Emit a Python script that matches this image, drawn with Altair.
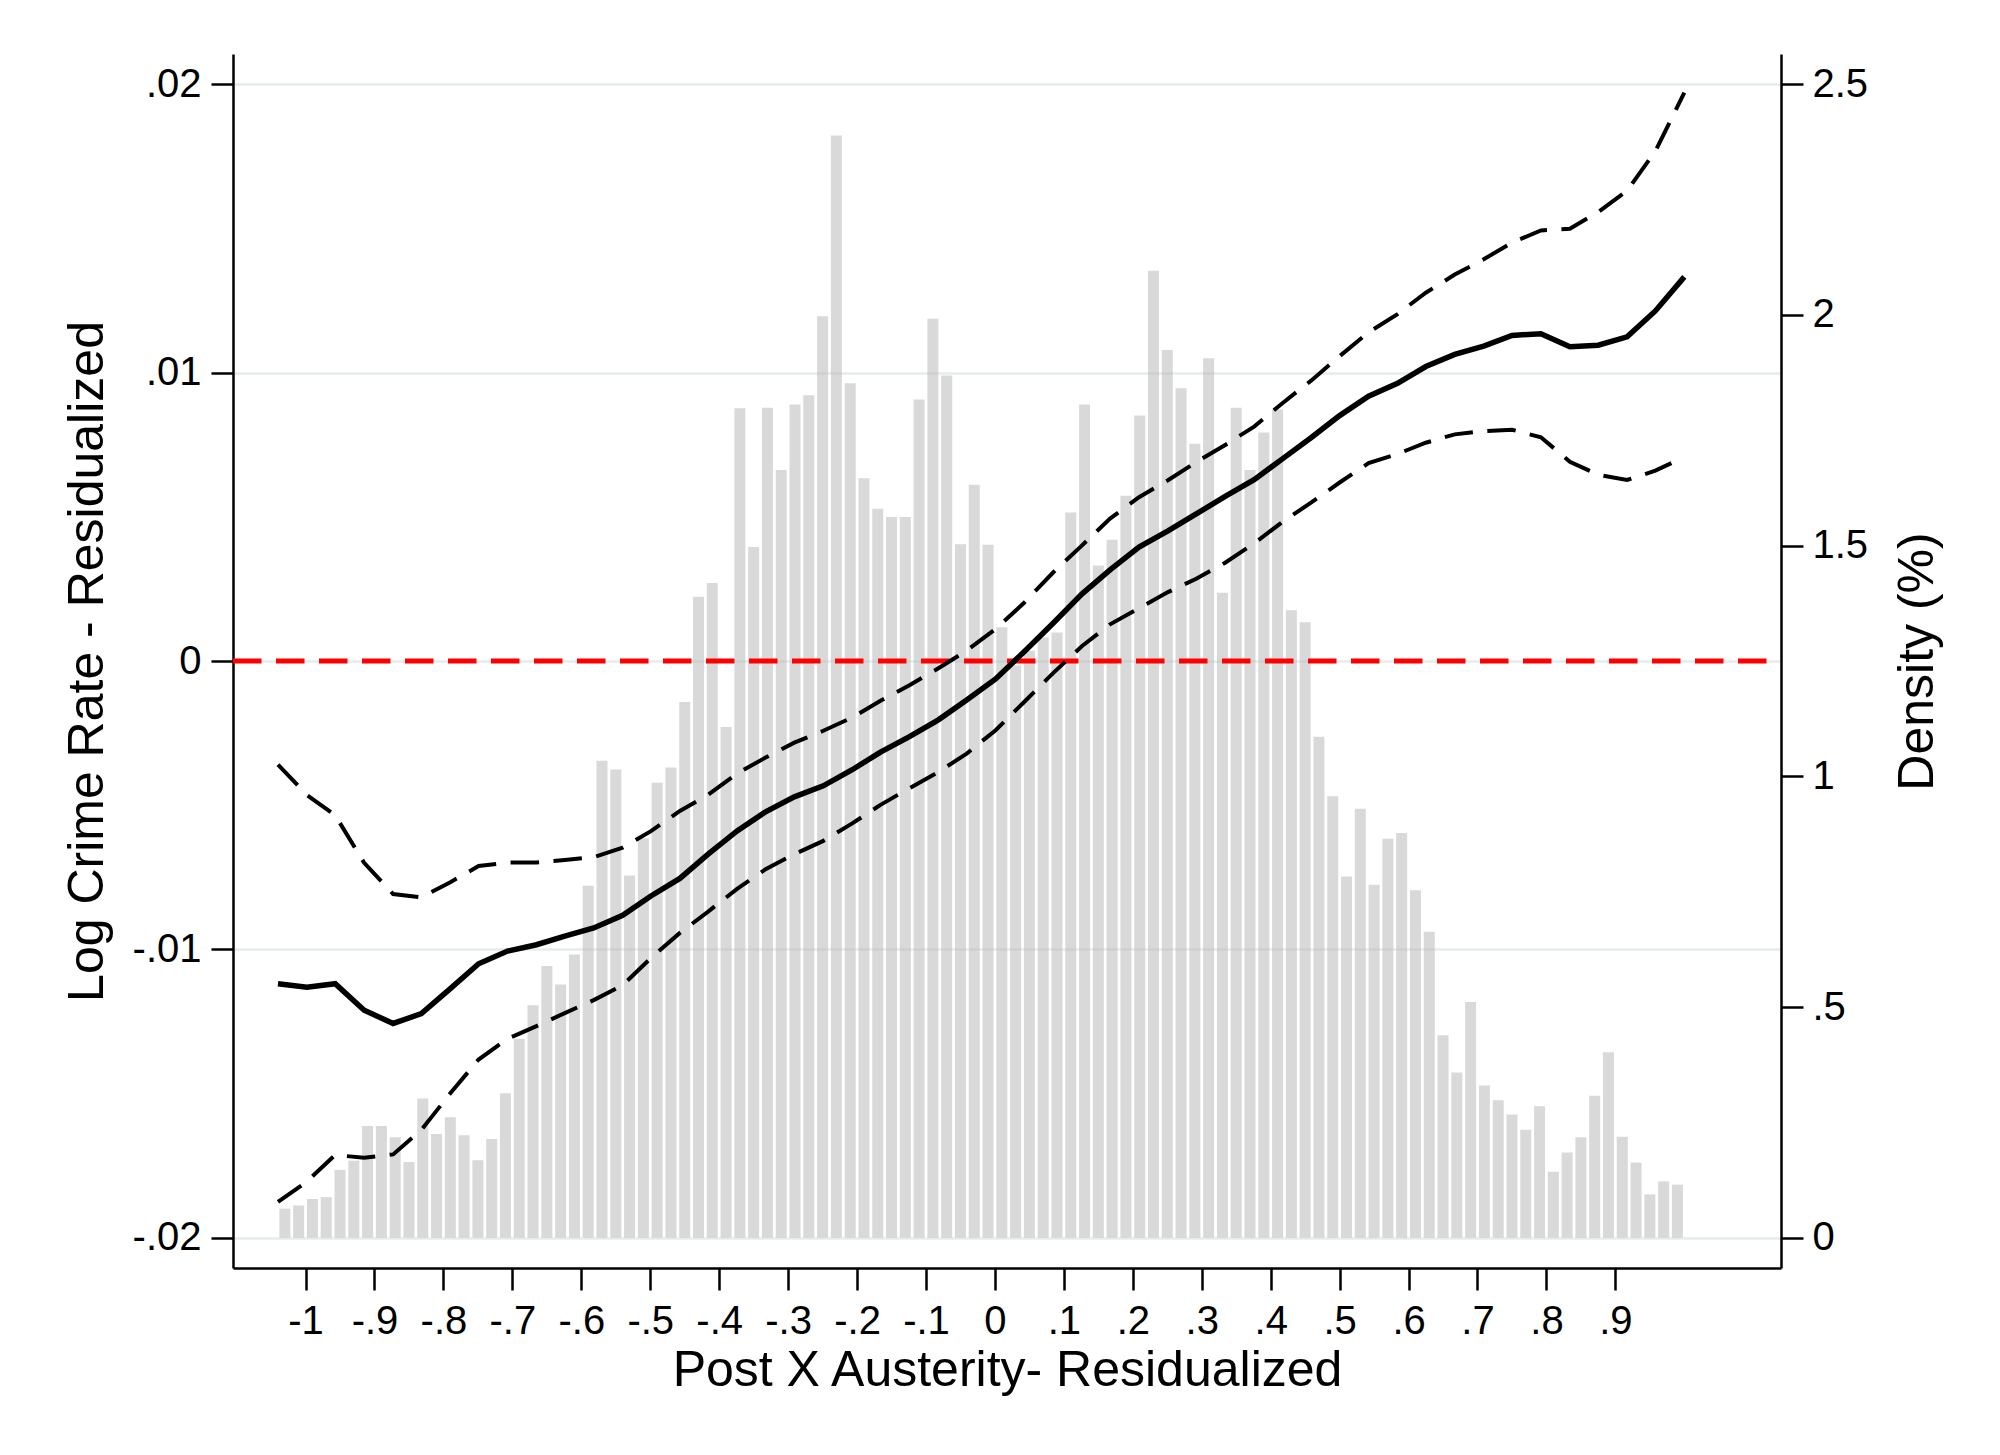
import altair as alt
import pandas as pd

# ---------------- data ----------------
bin_center = [
    -1.03, -1.01, -0.99, -0.97, -0.95, -0.93, -0.91, -0.89, -0.87, -0.85,
    -0.83, -0.81, -0.79, -0.77, -0.75, -0.73, -0.71, -0.69, -0.67, -0.65,
    -0.63, -0.61, -0.59, -0.57, -0.55, -0.53, -0.51, -0.49, -0.47, -0.45,
    -0.43, -0.41, -0.39, -0.37, -0.35, -0.33, -0.31, -0.29, -0.27, -0.25,
    -0.23, -0.21, -0.19, -0.17, -0.15, -0.13, -0.11, -0.09, -0.07, -0.05,
    -0.03, -0.01, 0.01, 0.03, 0.05, 0.07, 0.09, 0.11, 0.13, 0.15,
    0.17, 0.19, 0.21, 0.23, 0.25, 0.27, 0.29, 0.31, 0.33, 0.35,
    0.37, 0.39, 0.41, 0.43, 0.45, 0.47, 0.49, 0.51, 0.53, 0.55,
    0.57, 0.59, 0.61, 0.63, 0.65, 0.67, 0.69, 0.71, 0.73, 0.75,
    0.77, 0.79, 0.81, 0.83, 0.85, 0.87, 0.89, 0.91, 0.93, 0.95,
    0.97, 0.99,
]
density = [
    0.063, 0.070, 0.084, 0.088, 0.147, 0.167, 0.242, 0.242, 0.218, 0.164,
    0.302, 0.225, 0.261, 0.222, 0.168, 0.214, 0.313, 0.431, 0.504, 0.589,
    0.549, 0.614, 0.763, 1.034, 1.015, 0.785, 0.866, 0.986, 1.019, 1.161,
    1.389, 1.419, 1.107, 1.798, 1.497, 1.799, 1.664, 1.806, 1.826, 1.997,
    2.389, 1.852, 1.646, 1.580, 1.562, 1.562, 1.817, 1.992, 1.869, 1.503,
    1.632, 1.502, 1.323, 1.240, 1.272, 1.301, 1.312, 1.572, 1.806, 1.457,
    1.513, 1.608, 1.782, 2.096, 1.924, 1.841, 1.721, 1.906, 1.398, 1.799,
    1.664, 1.745, 1.795, 1.360, 1.334, 1.086, 0.957, 0.783, 0.930, 0.765,
    0.865, 0.877, 0.753, 0.663, 0.439, 0.358, 0.511, 0.330, 0.298, 0.267,
    0.234, 0.285, 0.143, 0.185, 0.218, 0.308, 0.402, 0.219, 0.163, 0.094,
    0.122, 0.115,
]

line_x = [
    -1.040, -0.998, -0.957, -0.915, -0.873, -0.832, -0.790, -0.749, -0.707, -0.665,
    -0.624, -0.582, -0.540, -0.499, -0.457, -0.416, -0.374, -0.332, -0.291, -0.249,
    -0.207, -0.166, -0.124, -0.082, -0.041, 0.001, 0.042, 0.084, 0.126, 0.167,
    0.209, 0.251, 0.292, 0.334, 0.376, 0.417, 0.459, 0.500, 0.542, 0.584,
    0.625, 0.667, 0.709, 0.750, 0.792, 0.834, 0.875, 0.917, 0.958, 1.000,
]
fit = [
    -0.01119, -0.01131, -0.01119, -0.01211, -0.01257, -0.01223, -0.01136, -0.01050, -0.01006, -0.00984,
    -0.00954, -0.00926, -0.00882, -0.00815, -0.00754, -0.00670, -0.00589, -0.00522, -0.00471, -0.00433,
    -0.00377, -0.00316, -0.00262, -0.00204, -0.00135, -0.00062, 0.00031, 0.00130, 0.00232, 0.00316,
    0.00395, 0.00451, 0.00510, 0.00571, 0.00629, 0.00701, 0.00775, 0.00851, 0.00918, 0.00963,
    0.01021, 0.01063, 0.01092, 0.01129, 0.01135, 0.01090, 0.01095, 0.01124, 0.01214, 0.01332,
]
ci_upper = [
    -0.00359, -0.00465, -0.00535, -0.00700, -0.00808, -0.00820, -0.00767, -0.00711, -0.00699, -0.00699,
    -0.00690, -0.00680, -0.00647, -0.00590, -0.00520, -0.00464, -0.00390, -0.00334, -0.00283, -0.00242,
    -0.00196, -0.00138, -0.00084, -0.00025, 0.00036, 0.00111, 0.00201, 0.00306, 0.00400, 0.00494,
    0.00568, 0.00627, 0.00690, 0.00749, 0.00813, 0.00894, 0.00973, 0.01057, 0.01140, 0.01203,
    0.01277, 0.01340, 0.01393, 0.01451, 0.01493, 0.01499, 0.01557, 0.01631, 0.01768, 0.01971,
]
ci_lower = [
    -0.01876, -0.01805, -0.01713, -0.01723, -0.01711, -0.01626, -0.01499, -0.01382, -0.01310, -0.01266,
    -0.01221, -0.01176, -0.01124, -0.01030, -0.00943, -0.00869, -0.00790, -0.00721, -0.00670, -0.00624,
    -0.00563, -0.00499, -0.00441, -0.00385, -0.00321, -0.00240, -0.00143, -0.00043, 0.00051, 0.00127,
    0.00183, 0.00239, 0.00285, 0.00341, 0.00408, 0.00482, 0.00550, 0.00619, 0.00686, 0.00718,
    0.00757, 0.00786, 0.00797, 0.00802, 0.00776, 0.00691, 0.00646, 0.00628, 0.00660, 0.00707,
]
reference_line = [0]

x_tick_values = [-1, -0.9, -0.8, -0.7, -0.6, -0.5, -0.4, -0.3, -0.2, -0.1,
                 0, 0.1, 0.2, 0.3, 0.4, 0.5, 0.6, 0.7, 0.8, 0.9]
y_tick_values = [-0.02, -0.01, 0, 0.01, 0.02]
density_tick_values = [0, 0.5, 1, 1.5, 2, 2.5]

x_title = "Post X Austerity- Residualized"
y_title = "Log Crime Rate - Residualized"
density_title = "Density (%)"

# ---------------- layout / style ----------------
FONT = "Liberation Sans"
LABEL_EXPR = "replace(toString(datum.value), '0.', '.')"
W, H = 1548, 1214
X_DOMAIN = [-1.098, 1.133]
Y_DOMAIN = [-0.02105, 0.02105]
D_DOMAIN = [-0.0656, 2.5656]
DASH = [28.5, 14.5]

hist_df = pd.DataFrame({"x": bin_center, "density": density})
line_df = pd.DataFrame({"x": line_x, "fit": fit, "upper": ci_upper, "lower": ci_lower})
ref_df = pd.DataFrame({"y": reference_line})

common_axis = dict(
    labelFont=FONT, labelFontSize=40, labelColor="black",
    titleFont=FONT, titleFontSize=50, titleFontWeight="normal", titleColor="black",
    tickSize=22, tickWidth=2.5, tickColor="black",
    domainColor="black", domainWidth=2.5,
    labelOverlap=False, labelFlush=False, labelExpr=LABEL_EXPR,
)

x_axis = alt.Axis(
    orient="bottom", values=x_tick_values, title=x_title, grid=False,
    labelPadding=11, titleX=W / 2, titleY=117, titleAlign="center",
    titleBaseline="alphabetic", **common_axis,
)
x_enc = alt.X("x:Q", scale=alt.Scale(domain=X_DOMAIN, nice=False, zero=False), axis=x_axis)

left_axis = alt.Axis(
    orient="left", values=y_tick_values, title=y_title, grid=True,
    gridColor="#e4ecef", gridWidth=2.5, labelPadding=10,
    titleAngle=270, titleX=-131, titleY=H / 2, titleAlign="center",
    titleBaseline="alphabetic", **common_axis,
)
left_scale = alt.Scale(domain=Y_DOMAIN, nice=False, zero=False)


def left_y(field):
    return alt.Y(f"{field}:Q", scale=left_scale, axis=left_axis)


right_axis = alt.Axis(
    orient="right", values=density_tick_values, title=density_title, grid=False,
    labelPadding=9, titleAngle=270, titleX=151, titleY=H / 2, titleAlign="center",
    titleBaseline="alphabetic", **common_axis,
)

bars = alt.Chart(hist_df).mark_bar(width=11, color="#b3b3b3", opacity=0.5).encode(
    x=x_enc,
    y=alt.Y("density:Q", scale=alt.Scale(domain=D_DOMAIN, nice=False, zero=False), axis=right_axis),
    y2=alt.datum(0),
)

rule = alt.Chart(ref_df).mark_rule(color="#ff0000", strokeWidth=5, strokeDash=DASH).encode(
    y=left_y("y"), x=alt.value(0), x2=alt.value(W)
)
upper = alt.Chart(line_df).mark_line(color="black", strokeWidth=4, strokeDash=DASH).encode(
    x=x_enc, y=left_y("upper")
)
lower = alt.Chart(line_df).mark_line(color="black", strokeWidth=4, strokeDash=DASH).encode(
    x=x_enc, y=left_y("lower")
)
fitline = alt.Chart(line_df).mark_line(color="black", strokeWidth=5.5).encode(
    x=x_enc, y=left_y("fit")
)

inner = alt.layer(rule, upper, lower, fitline)

chart = (
    alt.layer(bars, inner)
    .resolve_scale(y="independent")
    .properties(
        width=W, height=H,
        autosize=alt.AutoSizeParams(type="none"),
        padding={"left": 225, "top": 46, "right": 211, "bottom": 179},
        background="white",
    )
    .configure_view(stroke=None)
)

chart.save("out.html", embed_options={"renderer": "svg", "actions": False})
